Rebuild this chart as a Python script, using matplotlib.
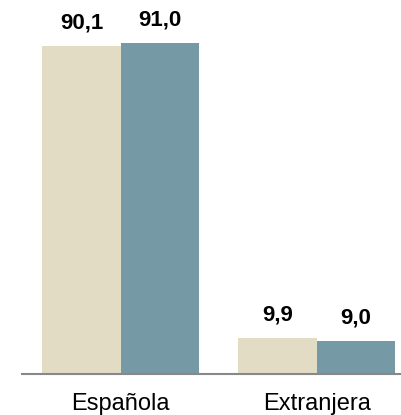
import numpy as np
import matplotlib.pyplot as plt

categories = ["Española", "Extranjera"]
serie_a = [90.1, 9.9]
serie_b = [91.0, 9.0]
labels_a = ["90,1", "9,9"]
labels_b = ["91,0", "9,0"]

plt.rcParams['font.family'] = ['Liberation Sans', 'DejaVu Sans']

fig = plt.figure(figsize=(4.01, 4.15), dpi=100)
ax = fig.add_axes([22 / 401, 41 / 415, 1 - 22 / 401, 374 / 415])

x = np.arange(len(categories))
w = 0.4
bars_a = ax.bar(x - w / 2, serie_a, w, color="#E2DCC5")
bars_b = ax.bar(x + w / 2, serie_b, w, color="#7599A5")

for bars, labs in [(bars_a, labels_a), (bars_b, labels_b)]:
    for b, lab in zip(bars, labs):
        ax.annotate(lab, (b.get_x() + b.get_width() / 2, b.get_height()),
                    xytext=(0, 9), textcoords="offset points",
                    ha="center", va="bottom", fontsize=16, fontweight="bold")

ax.set_xlim(-0.503, 1.43)
ax.set_ylim(0, 102.8)
ax.set_xticks(x)
ax.set_xticklabels(categories, fontsize=17)
ax.tick_params(axis="x", length=0, pad=13.5)
ax.set_yticks([])
for s in ["top", "right", "left"]:
    ax.spines[s].set_visible(False)
ax.spines["bottom"].set_color("#888888")
ax.spines["bottom"].set_linewidth(1.5)

fig.savefig("out.png", dpi=100)
